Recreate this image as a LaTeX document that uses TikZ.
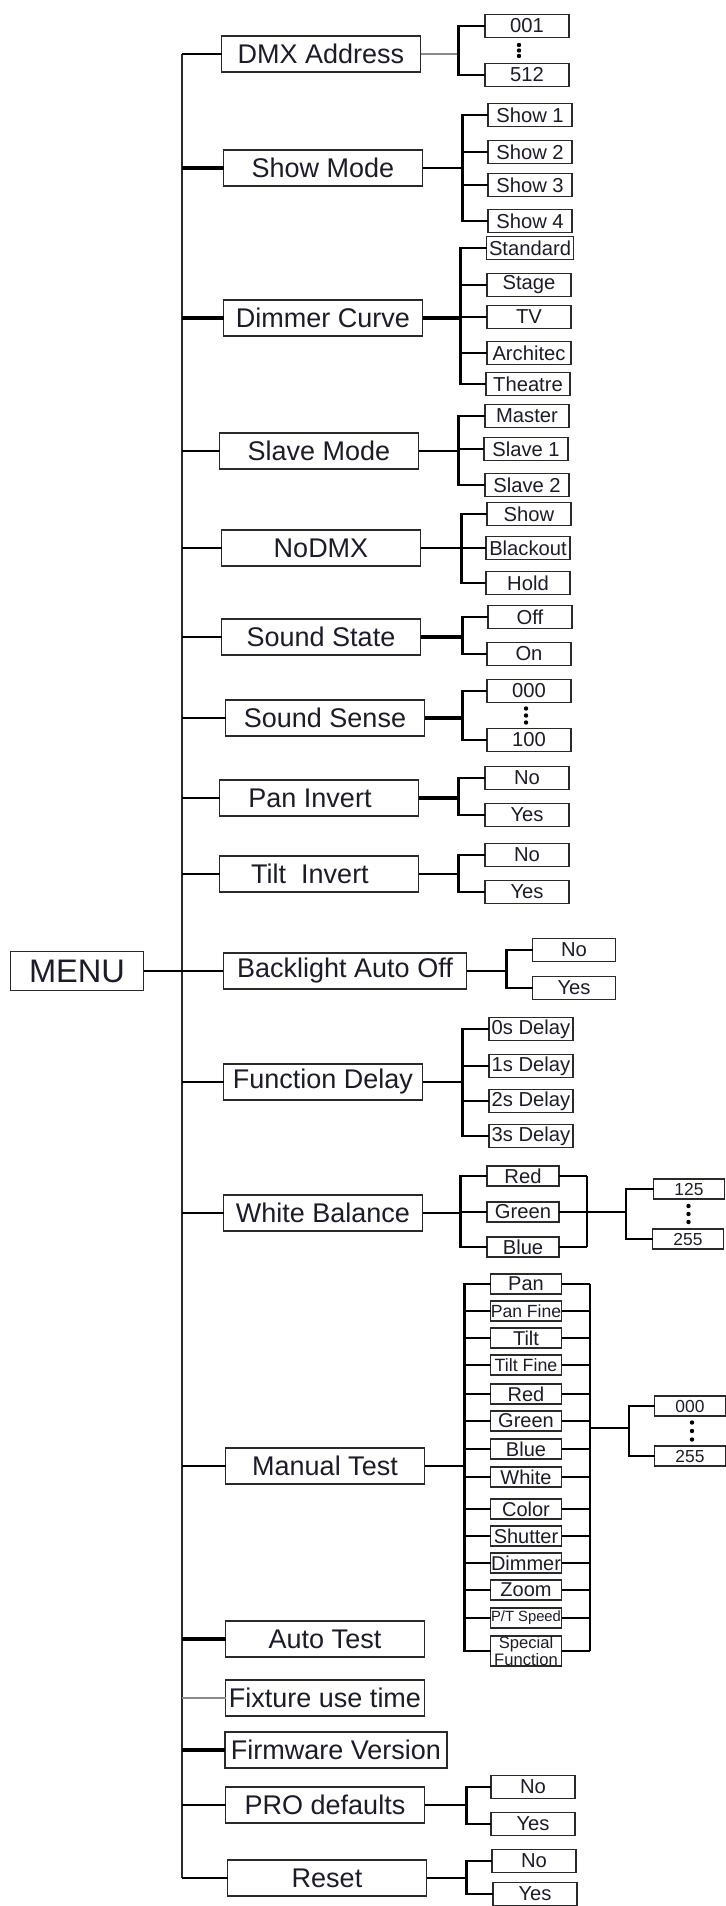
\documentclass[tikz,border=0pt]{standalone}
\usepackage{fontspec}
\setmainfont{Liberation Sans}
\usepackage{tikz}
\usetikzlibrary{positioning,calc}
\definecolor{ink}{HTML}{1C1C28}
\definecolor{edge}{HTML}{2A2A2A}
\definecolor{muted}{HTML}{8A8A8A}

\begin{document}
\begin{tikzpicture}[x=0.5pt,y=-0.5pt,
    box/.style={draw=edge, line width=0.7pt, text=ink, inner sep=0pt, outer sep=0pt},
    menubox/.style={box, minimum width=66.5pt, minimum height=19.7pt, font=\fontsize{16.3}{18}\selectfont},
    mainbox/.style={box, minimum width=99.5pt, minimum height=18pt, font=\fontsize{13.5}{15}\selectfont},
    optbox/.style={box, minimum width=42pt, minimum height=11.5pt, font=\fontsize{10.1}{11}\selectfont},
    testbox/.style={box, minimum width=35.5pt, minimum height=10pt, font=\fontsize{10}{11}\selectfont},
    valbox/.style={box, minimum width=35.25pt, minimum height=10pt, font=\fontsize{8.7}{10}\selectfont},
    link/.style={draw=black, line width=1.3pt},
    heavy/.style={draw=black, line width=2pt},
    faint/.style={draw=muted, line width=0.7pt},
    spine/.style={draw=edge, line width=1pt}]
  \useasboundingbox (0,0) rectangle (726,1906);

  % root and first level
  \node[menubox] (menu) at (77,971) {MENU};
  \node[mainbox] (dmx) at (321,54) {DMX Address};
  \node[mainbox] (show) at (323,168) {Show Mode};
  \node[mainbox] (dimmer) at (323,318) {Dimmer Curve};
  \node[mainbox] (slave) at (319,451) {Slave Mode};
  \node[mainbox] (nodmx) at (321,548) {NoDMX};
  \node[mainbox] (sstate) at (321,637) {Sound State};
  \node[mainbox] (ssense) at (325,718) {Sound Sense};
  \node[mainbox] (pan) at (319,798) {Pan Invert\hspace*{9pt}};
  \node[mainbox] (tilt) at (319,874) {Tilt\ \ Invert\hspace*{9pt}};
  \node[mainbox, minimum width=121.7pt] (backlight) at (345,971) {Backlight Auto Off};
  \node[mainbox] (fdelay) at (323,1082) {Function Delay};
  \node[mainbox] (wb) at (323,1213) {White Balance};
  \node[mainbox] (mtest) at (325,1466) {Manual Test};
  \node[mainbox] (atest) at (325,1639) {Auto Test};
  \node[mainbox] (fixture) at (325,1698) {Fixture use time};
  \node[mainbox, minimum width=111pt] (firmware) at (336,1750) {Firmware Version};
  \node[mainbox] (pro) at (325,1805) {PRO defaults};
  \node[mainbox] (reset) at (327,1878) {Reset};

  % second level
  \node[optbox] (a001) at (527,26) {001};
  \node[optbox] (a512) at (527,75) {512};
  \node[optbox] (show1) at (530,115) {Show 1};
  \node[optbox] (show2) at (530,152) {Show 2};
  \node[optbox] (show3) at (530,185) {Show 3};
  \node[optbox] (show4) at (530,221) {Show 4};
  \node[optbox, minimum width=43.5pt] (std) at (530,248) {Standard};
  \node[optbox] (stage) at (529,285) {Stage};
  \node[optbox] (tv) at (529,317) {TV};
  \node[optbox] (arch) at (529,353) {Architec};
  \node[optbox] (theatre) at (528,384) {Theatre};
  \node[optbox] (master) at (527,416) {Master};
  \node[optbox] (slave1) at (526,449) {Slave 1};
  \node[optbox] (slave2) at (527,485) {Slave 2};
  \node[optbox] (nshow) at (529,514) {Show};
  \node[optbox] (blackout) at (528,548) {Blackout};
  \node[optbox] (hold) at (528,583) {Hold};
  \node[optbox] (off) at (530,617) {Off};
  \node[optbox] (on) at (529,654) {On};
  \node[optbox] (s000) at (529,691) {000};
  \node[optbox] (s100) at (529,740) {100};
  \node[optbox] (pno) at (527,778) {No};
  \node[optbox] (pyes) at (527,815) {Yes};
  \node[optbox] (tno) at (527,855) {No};
  \node[optbox] (tyes) at (527,892) {Yes};
  \node[optbox, minimum width=41.3pt] (bno) at (574,950) {No};
  \node[optbox, minimum width=41.3pt] (byes) at (574,988) {Yes};
  \node[optbox] (d0) at (531,1029) {0s Delay};
  \node[optbox] (d1) at (531,1066) {1s Delay};
  \node[optbox] (d2) at (531,1101) {2s Delay};
  \node[optbox] (d3) at (531,1136) {3s Delay};
  \node[optbox, minimum width=36pt, minimum height=10pt] (wred) at (523,1176) {Red};
  \node[optbox, minimum width=36pt, minimum height=10pt] (wgreen) at (523,1212) {Green};
  \node[optbox, minimum width=36pt, minimum height=10pt] (wblue) at (523,1247) {Blue};
  \node[valbox] (w125) at (689,1189) {125};
  \node[valbox] (w255) at (688,1239) {255};

  \node[testbox] (tpan) at (526,1284) {Pan};
  \node[testbox, font=\fontsize{8.8}{10}\selectfont] (tpanf) at (526,1311) {Pan Fine};
  \node[testbox] (ttilt) at (526,1338) {Tilt};
  \node[testbox, font=\fontsize{8.9}{10}\selectfont] (ttiltf) at (526,1365) {Tilt Fine};
  \node[testbox] (tred) at (526,1394) {Red};
  \node[testbox] (tgreen) at (526,1421) {Green};
  \node[testbox] (tblue) at (526,1449) {Blue};
  \node[testbox] (twhite) at (526,1477) {White};
  \node[testbox] (tcolor) at (526,1509) {Color};
  \node[testbox] (tshutter) at (526,1536) {Shutter};
  \node[testbox] (tdimmer) at (526,1563) {Dimmer};
  \node[testbox] (tzoom) at (526,1590) {Zoom};
  \node[testbox, font=\fontsize{7.4}{8}\selectfont] (tspeed) at (526,1618) {P/T Speed};
  \node[testbox, minimum height=15pt, align=center, font=\fontsize{8.3}{7.4}\selectfont] (tspecial) at (526,1651) {Special\\Function};
  \node[valbox] (m000) at (690,1406) {000};
  \node[valbox] (m255) at (690,1456) {255};

  \node[optbox] (prono) at (533,1787) {No};
  \node[optbox] (proyes) at (533,1824) {Yes};
  \node[optbox] (rno) at (534,1861) {No};
  \node[optbox] (ryes) at (535,1894) {Yes};

  % trunk
  \coordinate (trunk) at (182,0);
  \draw[spine] (dmx.west -| trunk) -- (reset.west -| trunk);
  \draw[link] (menu.east) -- (backlight.west);
  \foreach \n in {dmx,slave,nodmx,sstate,ssense,pan,tilt,fdelay,wb,mtest,pro,reset}
    \draw[link] (\n.west -| trunk) -- (\n.west);
  \foreach \n in {show,dimmer,atest,firmware}
    \draw[heavy] (\n.west -| trunk) -- (\n.west);
  \draw[faint] (fixture.west -| trunk) -- (fixture.west);

  % branches
  \draw[faint] (dmx.east) -- ++(38,0) coordinate (dmxf);
  \foreach \c in {a001,a512} \draw[link] (dmxf) |- (\c.west);
  \draw[link] (show.east) -- ++(40,0) coordinate (showf);
  \foreach \c in {show1,show2,show3,show4} \draw[link] (showf) |- (\c.west);
  \draw[heavy] (dimmer.east) -- ++(38,0) coordinate (dimf);
  \foreach \c in {std,stage,tv,arch,theatre} \draw[link] (dimf) |- (\c.west);
  \draw[link] (slave.east) -- ++(40,0) coordinate (slavef);
  \foreach \c in {master,slave1,slave2} \draw[link] (slavef) |- (\c.west);
  \draw[link] (nodmx.east) -- ++(41,0) coordinate (nodmxf);
  \foreach \c in {nshow,blackout,hold} \draw[link] (nodmxf) |- (\c.west);
  \draw[heavy] (sstate.east) -- ++(42,0) coordinate (sstatef);
  \foreach \c in {off,on} \draw[link] (sstatef) |- (\c.west);
  \draw[heavy] (ssense.east) -- ++(38,0) coordinate (ssensef);
  \foreach \c in {s000,s100} \draw[link] (ssensef) |- (\c.west);
  \draw[heavy] (pan.east) -- ++(40,0) coordinate (panf);
  \foreach \c in {pno,pyes} \draw[link] (panf) |- (\c.west);
  \draw[link] (tilt.east) -- ++(40,0) coordinate (tiltf);
  \foreach \c in {tno,tyes} \draw[link] (tiltf) |- (\c.west);
  \draw[link] (backlight.east) -- ++(40,0) coordinate (blf);
  \foreach \c in {bno,byes} \draw[link] (blf) |- (\c.west);
  \draw[link] (fdelay.east) -- ++(40,0) coordinate (fdf);
  \foreach \c in {d0,d1,d2,d3} \draw[link] (fdf) |- (\c.west);
  \draw[link] (pro.east) -- ++(42,0) coordinate (prof);
  \foreach \c in {prono,proyes} \draw[link] (prof) |- (\c.west);
  \draw[link] (reset.east) -- ++(40,0) coordinate (resetf);
  \foreach \c in {rno,ryes} \draw[link] (resetf) |- (\c.west);

  % white balance values
  \draw[link] (wb.east) -- ++(38,0) coordinate (wbf);
  \foreach \c in {wred,wgreen,wblue} \draw[link] (wbf) |- (\c.west);
  \coordinate (wbj) at (587,0);
  \foreach \c in {wred,wgreen,wblue} \draw[link] (\c.east) -- (\c.east -| wbj);
  \draw[link] (wred.east -| wbj) -- (wblue.east -| wbj);
  \draw[link] (wgreen.east -| wbj) -- ++(39,0) coordinate (wbv);
  \foreach \c in {w125,w255} \draw[link] (wbv) |- (\c.west);

  % manual test channels
  \draw[link] (mtest.east) -- ++(40,0) coordinate (mtf);
  \foreach \c in {tpan,tpanf,ttilt,ttiltf,tred,tgreen,tblue,twhite,tcolor,tshutter,tdimmer,tzoom,tspeed,tspecial}
    \draw[link] (mtf) |- (\c.west);
  \coordinate (mtj) at (590,0);
  \foreach \c in {tpan,tpanf,ttilt,ttiltf,tred,tgreen,tblue,twhite,tcolor,tshutter,tdimmer,tzoom,tspeed,tspecial}
    \draw[link] (\c.east) -- (\c.east -| mtj);
  \draw[link] (tpan.east -| mtj) -- (tspecial.east -| mtj);
  \coordinate (mtout) at (590,1428);
  \draw[link] (mtout) -- ++(39,0) coordinate (mtv);
  \foreach \c in {m000,m255} \draw[link] (mtv) |- (\c.west);

  % ranges
  \foreach \k in {-1,0,1} {
    \fill ($(a001)!0.5!(a512)+(-8,5.5*\k)$) circle (1.1pt);
    \fill ($(s000)!0.5!(s100)+(-3,7*\k)$) circle (1.1pt);
    \fill ($(w125)!0.5!(w255)+(0,8*\k)$) circle (1.1pt);
    \fill ($(m000)!0.5!(m255)+(2,8.5*\k)$) circle (1.1pt);
  }
\end{tikzpicture}
\end{document}
